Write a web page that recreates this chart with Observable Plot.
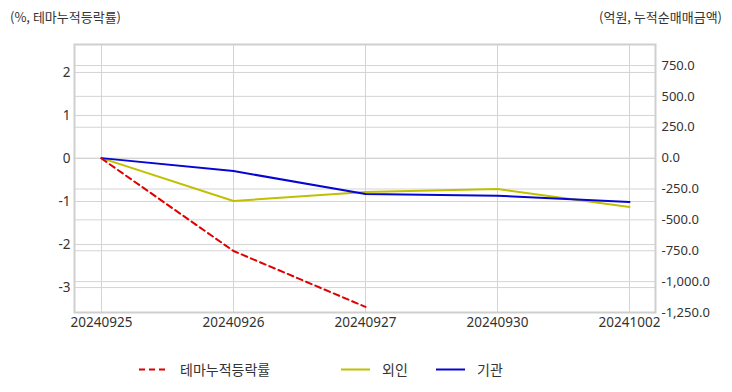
<!DOCTYPE html>
<html><head><meta charset="utf-8">
<script src="https://cdn.jsdelivr.net/npm/d3@7"></script>
<script src="https://cdn.jsdelivr.net/npm/@observablehq/plot@0.6"></script>
<style>
body{margin:0;background:#fff;font-family:"Noto Sans CJK KR","Noto Sans",sans-serif;}
#wrap{position:relative;width:732px;height:392px;}
.t{position:absolute;font-size:13px;color:#333;white-space:nowrap;}
#legend{position:absolute;top:359px;left:0;width:732px;height:20px;font-size:14px;color:#333;}
#legend span{position:absolute;top:0;}
#legend svg{position:absolute;top:0;}
</style></head>
<body><div id="wrap">
<div class="t" style="left:10px;top:7px">(%, 테마누적등락률)</div>
<div class="t" style="right:10px;top:7px">(억원, 누적순매매금액)</div>
<div id="chart"></div>
<div id="legend"></div>
</div>
<script>
const dates = ["20240925","20240926","20240927","20240930","20241002"];
const themeDates = ["20240925","20240926","20240927"];
const themeValues = [0, -2.15, -3.45];
const foreignValues = [0, -347, -274, -250, -395];
const instValues = [0, -105, -290, -304, -355];
const leftTicks = [-3,-2,-1,0,1,2];
const rightTicks = [-1250,-1000,-750,-500,-250,0,250,500,750];
const leftDomain = [-3.58, 2.65];
const rightDomain = [-1250, 920];

const toLeft = d3.scaleLinear(rightDomain, leftDomain);
const loc = d3.formatLocale({decimal:".",thousands:",",grouping:[3],currency:["",""],minus:"-"});
const rfmt = loc.format(",.1f");

const theme = themeDates.map((d,i)=>({date:d, v:themeValues[i]}));
const foreign = dates.map((d,i)=>({date:d, v:toLeft(foreignValues[i])}));
const inst = dates.map((d,i)=>({date:d, v:toLeft(instValues[i])}));
const grid = "#d4d4d4";
const font = "'Noto Sans', 'Noto Sans CJK KR', sans-serif";

const chart = Plot.plot({
  width:732, height:340,
  marginLeft:74, marginRight:77, marginTop:44, marginBottom:28,
  style:{fontFamily:font, fontSize:"13px", color:"#333", background:"#fff"},
  x:{type:"point", domain:dates, padding:0.197, label:null},
  y:{domain:leftDomain, label:null},
  marks:[
    Plot.ruleY(leftTicks, {stroke:grid, strokeWidth:1}),
    Plot.ruleY(rightTicks.map(t=>toLeft(t)), {stroke:grid, strokeWidth:1}),
    Plot.ruleX(dates, {stroke:grid, strokeWidth:1}),
    Plot.frame({stroke:"#cfcfcf", strokeWidth:2}),
    Plot.axisX({tickSize:0, tickPadding:5, label:null, fontSize:13.5}),
    Plot.axisY(leftTicks, {anchor:"left", tickSize:0, tickPadding:4, label:null, tickFormat:d=>String(d), fontSize:13.5}),
    Plot.axisY(rightTicks.map(t=>toLeft(t)), {anchor:"right", tickSize:0, tickPadding:6, label:null, tickFormat:d=>rfmt(Math.round(toLeft.invert(d))), fontSize:13}),
    Plot.line(foreign, {x:"date", y:"v", stroke:"#c0c000", strokeWidth:2}),
    Plot.line(inst, {x:"date", y:"v", stroke:"#0606d4", strokeWidth:2}),
    Plot.line(theme, {x:"date", y:"v", stroke:"#e00000", strokeWidth:2, strokeDasharray:"6,4"})
  ]
});
document.getElementById("chart").appendChild(chart);

const legendItems = [
  {name:"테마누적등락률", color:"#e00000", dash:"6,4", x:139},
  {name:"외인", color:"#c0c000", dash:null, x:341},
  {name:"기관", color:"#0606d4", dash:null, x:436}
];
const lg = document.getElementById("legend");
legendItems.forEach(it=>{
  const s = document.createElementNS("http://www.w3.org/2000/svg","svg");
  s.setAttribute("width",30); s.setAttribute("height",20);
  s.style.left = it.x+"px";
  s.innerHTML = `<line x1="0" x2="29" y1="10.5" y2="10.5" stroke="${it.color}" stroke-width="2" ${it.dash?`stroke-dasharray="${it.dash}"`:""}/>`;
  lg.appendChild(s);
  const sp = document.createElement("span");
  sp.textContent = it.name;
  sp.style.left = (it.x+41)+"px";
  lg.appendChild(sp);
});
</script>
</body></html>
